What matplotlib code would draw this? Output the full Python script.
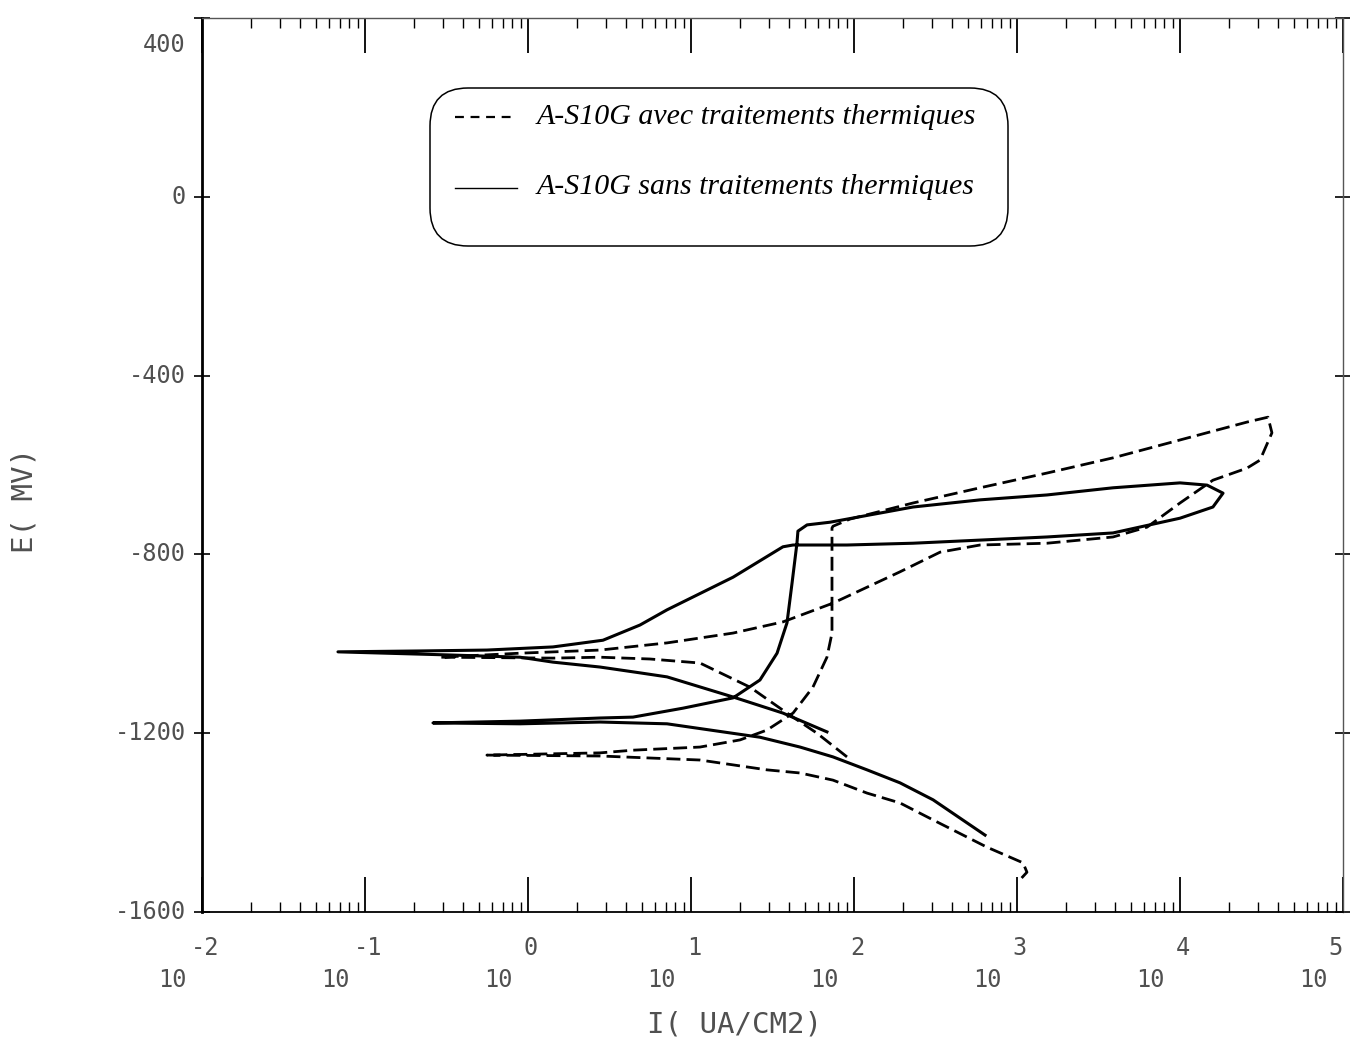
import matplotlib
matplotlib.use("Agg")
import matplotlib.pyplot as plt
import numpy as np
from matplotlib.patches import FancyBboxPatch
from matplotlib.lines import Line2D
from matplotlib.transforms import IdentityTransform

# Cyclic polarisation curves, log10 of current density (uA/cm2) and potential (mV)
sans_log_i = [1.834, 1.564, 1.258, 0.853, 0.687, 0.442, 0.153, -0.049, -0.479, -1.166,
              -0.663, -0.252, 0.153, 0.460, 0.687, 0.853, 1.258, 1.564, 1.626, 1.957,
              2.362, 2.773, 3.184, 3.589, 4.000, 4.202, 4.264, 4.166, 4.000, 3.589,
              3.184, 2.773, 2.362, 1.853, 1.712, 1.656, 1.650, 1.620, 1.589, 1.528,
              1.423, 1.258, 0.951, 0.644, 0.442, -0.049, -0.583, -0.049, 0.442, 0.853,
              1.423, 1.669, 1.871, 2.080, 2.282, 2.485, 2.804]
sans_e = [-1197, -1155, -1119, -1074, -1065, -1052, -1041, -1030, -1025, -1018,
          -1016, -1014, -1007, -992, -958, -924, -851, -783, -779, -779,
          -775, -768, -761, -752, -719, -694, -663, -645, -640, -651,
          -667, -678, -694, -728, -734, -748, -775, -864, -953, -1021,
          -1081, -1121, -1144, -1164, -1166, -1173, -1177, -1179, -1175, -1179,
          -1209, -1231, -1253, -1282, -1311, -1349, -1428]

avec_log_i = [1.957, 1.773, 1.589, 1.362, 1.055, 0.748, 0.442, 0.153, -0.540, -0.049,
              0.442, 0.853, 1.258, 1.564, 1.871, 2.282, 2.528, 2.773, 3.184, 3.589,
              3.798, 4.000, 4.202, 4.411, 4.491, 4.564, 4.540, 4.411, 4.000, 3.589,
              3.184, 2.773, 2.362, 1.975, 1.871, 1.865, 1.865, 1.834, 1.748, 1.626,
              1.466, 1.301, 1.055, 0.644, 0.442, -0.252, 0.442, 1.055, 1.466, 1.669,
              1.871, 2.080, 2.282, 2.485, 2.816, 3.037, 3.061, 3.018]
avec_e = [-1253, -1200, -1155, -1097, -1043, -1034, -1030, -1032, -1030, -1021,
          -1014, -998, -976, -951, -909, -839, -795, -779, -775, -761,
          -739, -685, -634, -607, -589, -528, -493, -504, -544, -584,
          -618, -651, -685, -721, -737, -741, -976, -1030, -1097, -1155,
          -1193, -1215, -1231, -1238, -1244, -1249, -1251, -1260, -1282, -1289,
          -1305, -1334, -1356, -1394, -1455, -1490, -1511, -1528]

x_decades = [-2, -1, 0, 1, 2, 3, 4, 5]
y_ticks = [400, 0, -400, -800, -1200, -1600]
legend_labels = ["A-S10G avec traitements thermiques",
                 "A-S10G sans traitements thermiques"]

W, H = 1350, 1041
fig = plt.figure(figsize=(W / 100, H / 100), dpi=100)
fig.patch.set_facecolor("white")
ax = fig.add_axes([202 / W, 1 - 912 / H, 1141 / W, 894 / H])
ax.set_xscale("log")
ax.set_xlim(1e-2, 1e5)
ax.set_ylim(-1600, 400)

ax.plot(np.power(10.0, sans_log_i), sans_e, color="black", lw=2.2,
        solid_joinstyle="round")
ax.plot(np.power(10.0, avec_log_i), avec_e, color="black", lw=2.0,
        dashes=(5, 2.2))

# axes frame and ticks
for side, lw, col in [("left", 2.0, "black"), ("bottom", 1.3, "black"),
                      ("top", 1.0, "#555555"), ("right", 1.0, "#555555")]:
    ax.spines[side].set_linewidth(lw)
    ax.spines[side].set_color(col)

ax.set_xticks([10.0 ** k for k in x_decades])
ax.xaxis.set_minor_locator(matplotlib.ticker.LogLocator(base=10, subs=np.arange(2, 10)))
ax.tick_params(axis="x", which="major", direction="in", length=25, width=1.3,
               top=True, bottom=True, labelbottom=False, labeltop=False)
ax.tick_params(axis="x", which="minor", direction="in", length=7, width=1.0,
               top=True, bottom=True, labelbottom=False)
ax.set_yticks(y_ticks)
ax.tick_params(axis="y", which="major", direction="inout", length=12, width=1.2,
               left=True, right=True, labelleft=False)

tick_font = dict(family="DejaVu Sans Mono", fontsize=17, color="#505050")
px = 0.72  # points per pixel at 100 dpi

for k in x_decades:
    ax.annotate("10", xy=(10.0 ** k, 0), xycoords=("data", "axes fraction"),
                xytext=(-30 * px, -68 * px), textcoords="offset points",
                ha="center", va="center", **tick_font)
    ex = -7 if k == 5 else 3
    ax.annotate(str(k), xy=(10.0 ** k, 0), xycoords=("data", "axes fraction"),
                xytext=(ex * px, -36 * px), textcoords="offset points",
                ha="center", va="center", **tick_font)

for v in y_ticks:
    dy = -27 * px if v == 400 else 0
    ax.annotate(str(v), xy=(0, v), xycoords=("axes fraction", "data"),
                xytext=(-16 * px, dy), textcoords="offset points",
                ha="right", va="center", **tick_font)

fig.text(735 / W, 1 - 1025 / H, "I( UA/CM2)", ha="center", va="center",
         family="DejaVu Sans Mono", fontsize=21, color="#505050")
fig.text(25 / W, 1 - 500 / H, "E( MV)", ha="center", va="center", rotation=90,
         family="DejaVu Sans Mono", fontsize=21, color="#505050")

# legend box drawn in pixel coordinates
box = FancyBboxPatch((430, H - 246), 578, 158,
                     boxstyle="round,pad=0,rounding_size=38",
                     transform=IdentityTransform(), facecolor="white",
                     edgecolor="black", linewidth=1.1, zorder=5)
fig.add_artist(box)
fig.add_artist(Line2D([455, 517], [H - 117, H - 117], transform=IdentityTransform(),
                      color="black", lw=1.6, dashes=(4, 3), zorder=6))
fig.add_artist(Line2D([455, 517], [H - 188, H - 188], transform=IdentityTransform(),
                      color="black", lw=1.0, zorder=6))
for lab, yy in zip(legend_labels, [117, 187]):
    fig.text(537 / W, 1 - yy / H, lab, ha="left", va="center",
             family="Liberation Serif", style="italic", fontsize=21.5,
             color="black", zorder=6)

fig.savefig("out.png", dpi=100)
